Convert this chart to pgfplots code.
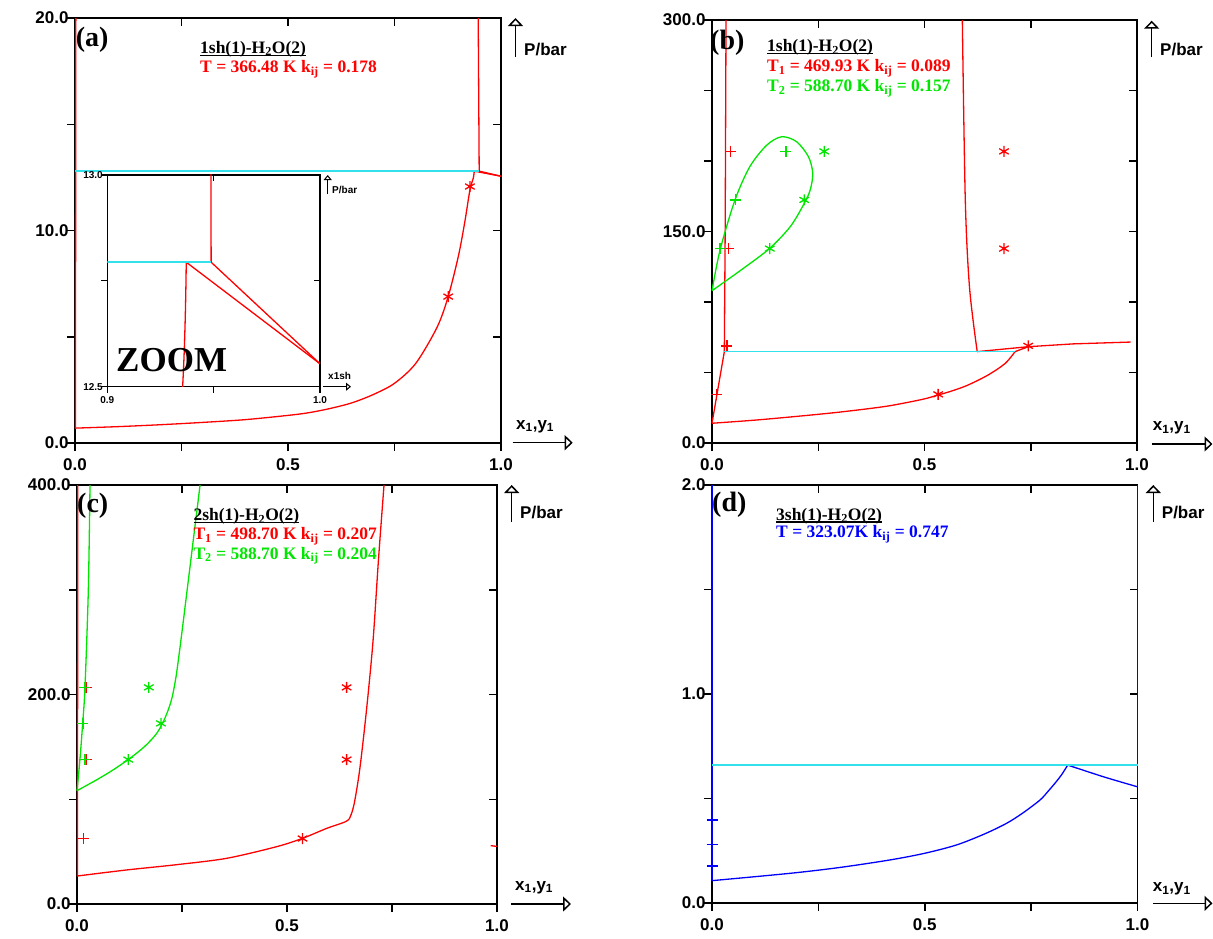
\documentclass[border=0pt]{standalone}
\usepackage{fontspec}
\setmainfont{Liberation Serif}
\newfontfamily\arial{Liberation Sans}
\usepackage{pgfplots}
\pgfplotsset{compat=1.18}
\usetikzlibrary{arrows.meta}
\definecolor{cred}{RGB}{255,0,0}
\definecolor{cgreen}{RGB}{0,230,0}
\definecolor{ccyan}{RGB}{50,225,235}
\definecolor{cblue}{RGB}{0,0,255}
\newcommand\tickfont{\arial\bfseries\fontsize{17}{19}\selectfont}
\newcommand\smallfont{\arial\bfseries\fontsize{10}{11}\selectfont}
\newcommand\ttlfont{\bfseries\fontsize{17.5}{19}\selectfont}
\newcommand\lblfont{\bfseries\fontsize{28}{30}\selectfont}
\newcommand\ul[1]{\setbox0\hbox{#1}\rlap{\rule[-2.6pt]{\wd0}{1.2pt}}\box0}
\pgfplotsset{
  panel/.style={
    scale only axis, clip=false,
    axis line style={line width=1.5pt},
    xmin=0,xmax=1,
    xtick={0,0.25,0.5,0.75,1},
    xticklabels={0.0,,0.5,,1.0},
    tick align=center, major tick length=8pt,
    every tick/.style={black,line width=1.5pt},
    xtick style={yshift=-4pt},
    ytick style={xshift=-4pt},
    ticklabel style={font=\tickfont},
    xticklabel style={anchor=north,yshift=-8.5pt},
    yticklabel style={anchor=east,xshift=1pt},
  },
  rl/.style={color=cred,line width=1.3pt,mark=none},
  gl/.style={color=cgreen,line width=1.3pt,mark=none},
  bl/.style={color=cblue,line width=1.3pt,mark=none},
  cl/.style={color=ccyan,line width=1.7pt,mark=none},
  plus/.style={only marks,mark=+,mark size=5.5pt,mark options={line width=1.3pt}},
  star/.style={only marks,mark=asterisk,mark size=5.5pt,mark options={line width=1.3pt}},
}
\newcommand\uparr[3]{\draw[line width=1.5pt,-{Triangle[open,length=8pt,width=15pt,line width=1.5pt]}] (#1pt,-#2pt) -- (#1pt,-#3pt);}
\newcommand\rarr[3]{\draw[line width=1.5pt,-{Triangle[open,length=8pt,width=15pt,line width=1.5pt]}] (#1pt,-#3pt) -- (#2pt,-#3pt);}
\begin{document}
\begin{tikzpicture}
\useasboundingbox (0,0) rectangle (1213pt,-938pt);
%================ (a)
\begin{axis}[panel, at={(75pt,-18pt)}, anchor=north west, width=426pt, height=425pt,
  ymin=0,ymax=20, ytick={0,5,10,15,20}, yticklabels={0.0,,10.0,,20.0}]
\addplot[rl] coordinates {(0.001,0.7) (0.002,20)};
\addplot[rl,smooth] coordinates {(0,0.7) (0.1,0.77) (0.2,0.86) (0.3,0.97) (0.4,1.1) (0.5,1.3) (0.55,1.43) (0.6,1.63) (0.65,1.89) (0.7,2.28) (0.75,2.81) (0.8,3.75) (0.85,5.45) (0.876,6.89) (0.9,8.8) (0.915,10.4) (0.927,11.9) (0.9354,12.5) (0.9371,12.794)};
\addplot[rl] coordinates {(0.9488,12.794) (0.9465,20)};
\addplot[rl] coordinates {(0.9488,12.794) (1,12.554)};
\addplot[rl] coordinates {(0.9371,12.794) (1,12.554)};
\addplot[cl] coordinates {(0,12.794) (0.9488,12.794)};
\addplot[cred,star] coordinates {(0.876,6.89) (0.927,12.07)};
\end{axis}
% inset
\begin{axis}[scale only axis, at={(107.3pt,-175pt)}, anchor=north west, width=212.7pt, height=211.7pt,
  xmin=0.9,xmax=1,ymin=12.5,ymax=13, clip=true,
  axis background/.style={fill=white},
  axis line style={line width=1.2pt},
  xtick={0.9,0.95,1}, xticklabels={0.9,,1.0},
  ytick={12.5,12.75,13}, yticklabels={12.5,,13.0},
  tick align=center, major tick length=6pt,
  every tick/.style={black,line width=1.2pt},
  xtick style={yshift=-3pt}, ytick style={xshift=-3pt},
  ticklabel style={font=\smallfont},
  xticklabel style={anchor=north,yshift=-3pt},
  yticklabel style={anchor=east,xshift=2pt}]
\addplot[rl,smooth] coordinates {(0.876,6.89) (0.9,8.8) (0.915,10.4) (0.927,11.9) (0.9354,12.5) (0.9371,12.794)};
\addplot[rl] coordinates {(0.9488,12.794) (0.9465,20)};
\addplot[rl] coordinates {(0.9488,12.794) (1,12.554)};
\addplot[rl] coordinates {(0.9371,12.794) (1,12.554)};
\addplot[cl] coordinates {(0,12.794) (0.9488,12.794)};
\end{axis}
\node[anchor=base west,inner sep=0pt,font=\bfseries\fontsize{35}{36}\selectfont] at (116pt,-371.7pt) {ZOOM};
\draw[line width=1pt,-{Triangle[open,length=5pt,width=8pt,line width=1pt]}] (327.7pt,-194pt) -- (327.7pt,-175pt);
\node[anchor=west,inner sep=0pt,font=\smallfont] at (332pt,-190pt) {P/bar};
\draw[line width=1pt,-{Triangle[open,length=5pt,width=8pt,line width=1pt]}] (323pt,-386.7pt) -- (351pt,-386.7pt);
\node[anchor=west,inner sep=0pt,font=\smallfont] at (328pt,-376pt) {x1sh};
\node[anchor=base west,inner sep=0pt,font=\lblfont] at (75.7pt,-46pt) {(a)};
\node[anchor=base west,inner sep=0pt,font=\ttlfont] at (200pt,-53.3pt) {\ul{1sh(1)-H\textsubscript{2}O(2)}};
\node[anchor=base west,inner sep=0pt,font=\ttlfont,text=cred] at (200pt,-72.7pt) {T = 366.48 K k\textsubscript{ij} = 0.178};
\uparr{515.5}{57}{18}
\node[anchor=base west,inner sep=0pt,font=\tickfont] at (524pt,-55pt) {P/bar};
\rarr{512.7}{572.7}{442.7}
\node[anchor=base west,inner sep=0pt,font=\tickfont] at (516pt,-429pt) {x\textsubscript{1},y\textsubscript{1}};
%================ (b)
\begin{axis}[panel, at={(712pt,-20pt)}, anchor=north west, width=425pt, height=423pt,
  ymin=0,ymax=300, ytick={0,50,...,300}, yticklabels={0.0,,,150.0,,,300.0}]
\addplot[rl] coordinates {(0,14) (0.029,64.8) (0.031,150) (0.033,300)};
\addplot[rl,smooth] coordinates {(0.589,300) (0.596,172) (0.606,110) (0.624,64.8)};
\addplot[rl] coordinates {(0.624,64.8) (0.744,68.3)};
\addplot[rl,smooth] coordinates {(0,14) (0.1,16.2) (0.2,18.9) (0.3,21.9) (0.4,25.6) (0.45,28.2) (0.5,31.3) (0.527,33.6) (0.56,36.5) (0.6,40.8) (0.65,48.3) (0.69,56.5) (0.713,64.8)};
\addplot[rl] coordinates {(0.713,64.8) (0.744,68.3) (0.85,70.3) (0.985,71.6)};
\addplot[cl] coordinates {(0.029,64.8) (0.713,64.8)};
\addplot[cred,plus] coordinates {(0.011,34.5) (0.035,68.9) (0.038,137.9) (0.044,206.8)};
\addplot[cred,star] coordinates {(0.532,34.5) (0.744,68.9) (0.687,137.9) (0.687,206.8)};
\addplot[gl,smooth] coordinates {(0,108) (0.019,136.9) (0.054,172.3) (0.089,196) (0.129,211.3) (0.164,217.2) (0.199,213.7) (0.227,203) (0.237,191.3) (0.231,179.4) (0.215,168.8) (0.184,153.4) (0.136,138.1) (0.074,123.9) (0,108)};
\addplot[cgreen,plus] coordinates {(0.019,137.9) (0.056,172.4) (0.174,206.8)};
\addplot[cgreen,star] coordinates {(0.136,137.9) (0.217,172.4) (0.264,206.8)};
\end{axis}
\node[anchor=base west,inner sep=0pt,font=\lblfont] at (710pt,-49pt) {(b)};
\node[anchor=base west,inner sep=0pt,font=\ttlfont] at (767pt,-51.7pt) {\ul{1sh(1)-H\textsubscript{2}O(2)}};
\node[anchor=base west,inner sep=0pt,font=\ttlfont,text=cred] at (767pt,-71.7pt) {T\textsubscript{1} = 469.93 K k\textsubscript{ij} = 0.089};
\node[anchor=base west,inner sep=0pt,font=\ttlfont,text=cgreen] at (767pt,-91.7pt) {T\textsubscript{2} = 588.70 K k\textsubscript{ij} = 0.157};
\uparr{1151.7}{57.3}{20.7}
\node[anchor=base west,inner sep=0pt,font=\tickfont] at (1160pt,-55.7pt) {P/bar};
\rarr{1151.7}{1212.5}{444}
\node[anchor=base west,inner sep=0pt,font=\tickfont] at (1152.7pt,-430.7pt) {x\textsubscript{1},y\textsubscript{1}};
%================ (c)
\begin{axis}[panel, at={(77pt,-485pt)}, anchor=north west, width=420pt, height=419pt,
  ymin=0,ymax=400, ytick={0,100,...,400}, yticklabels={0.0,,200.0,,400.0}]
\addplot[rl] coordinates {(0.001,26.7) (0.002,400)};
\addplot[rl,smooth] coordinates {(0,26.7) (0.118,32.5) (0.236,37.5) (0.356,43.6) (0.475,54.7) (0.537,62.7) (0.595,72.3) (0.636,78) (0.648,81)};
\addplot[rl,smooth] coordinates {(0.648,81) (0.655,88) (0.662,100) (0.674,131) (0.690,188) (0.705,252) (0.718,330) (0.731,400)};
\addplot[rl] coordinates {(0.985,55.7) (1,55)};
\addplot[cred,plus] coordinates {(0.015,62.5) (0.023,137.9) (0.023,206.8)};
\addplot[cred,star] coordinates {(0.537,62.5) (0.642,137.9) (0.642,206.8)};
\addplot[gl,smooth] coordinates {(0,108.2) (0.007,137.9) (0.0135,172.4) (0.019,206.8) (0.027,300) (0.031,400)};
\addplot[gl,smooth] coordinates {(0,108.2) (0.04,117) (0.08,126.5) (0.122,137.9) (0.16,150) (0.19,163) (0.21,178) (0.225,195) (0.235,215) (0.242,235) (0.25,260) (0.27,325) (0.293,400)};
\addplot[cgreen,plus] coordinates {(0.019,137.9) (0.014,172.4) (0.019,206.8)};
\addplot[cgreen,star] coordinates {(0.122,137.9) (0.2,172.4) (0.171,206.8)};
\end{axis}
\node[anchor=base west,inner sep=0pt,font=\lblfont] at (77pt,-512.7pt) {(c)};
\node[anchor=base west,inner sep=0pt,font=\ttlfont] at (193.3pt,-520.7pt) {\ul{2sh(1)-H\textsubscript{2}O(2)}};
\node[anchor=base west,inner sep=0pt,font=\ttlfont,text=cred] at (193.3pt,-539.8pt) {T\textsubscript{1} = 498.70 K k\textsubscript{ij} = 0.207};
\node[anchor=base west,inner sep=0pt,font=\ttlfont,text=cgreen] at (193.3pt,-559.3pt) {T\textsubscript{2} = 588.70 K k\textsubscript{ij} = 0.204};
\uparr{511.7}{521.7}{485}
\node[anchor=base west,inner sep=0pt,font=\tickfont] at (520pt,-518.3pt) {P/bar};
\rarr{511}{571}{904}
\node[anchor=base west,inner sep=0pt,font=\tickfont] at (515pt,-890pt) {x\textsubscript{1},y\textsubscript{1}};
%================ (d)
\begin{axis}[panel, at={(712pt,-485pt)}, anchor=north west, width=425.5pt, height=418pt,
  ymin=0,ymax=2, ytick={0,0.5,...,2}, yticklabels={0.0,,1.0,,2.0}]
\addplot[bl] coordinates {(0,0.107) (0,2)};
\addplot[bl] coordinates {(1,0.556) (1,2)};
\addplot[bl,smooth] coordinates {(0,0.107) (0.183,0.142) (0.3,0.17) (0.418,0.206) (0.5,0.238) (0.575,0.278) (0.64,0.33) (0.692,0.381) (0.73,0.43) (0.771,0.493) (0.79,0.535) (0.808,0.578) (0.822,0.615) (0.836,0.66)};
\addplot[bl,smooth] coordinates {(0.836,0.66) (0.92,0.604) (1.0,0.556)};
\addplot[cl] coordinates {(0,0.66) (1,0.66)};
\addplot[cblue,plus] coordinates {(0,0.397) (0,0.281) (0,0.177)};
\end{axis}
\node[anchor=base west,inner sep=0pt,font=\lblfont] at (712pt,-511.7pt) {(d)};
\node[anchor=base west,inner sep=0pt,font=\ttlfont] at (776pt,-520pt) {\ul{3sh(1)-H\textsubscript{2}O(2)}};
\node[anchor=base west,inner sep=0pt,font=\ttlfont,text=cblue] at (776pt,-537.5pt) {T = 323.07K k\textsubscript{ij} = 0.747};
\uparr{1153.3}{521.7}{485}
\node[anchor=base west,inner sep=0pt,font=\tickfont] at (1161.7pt,-518.3pt) {P/bar};
\rarr{1153.3}{1212.5}{903.3}
\node[anchor=base west,inner sep=0pt,font=\tickfont] at (1152.7pt,-891.7pt) {x\textsubscript{1},y\textsubscript{1}};
\end{tikzpicture}
\end{document}
